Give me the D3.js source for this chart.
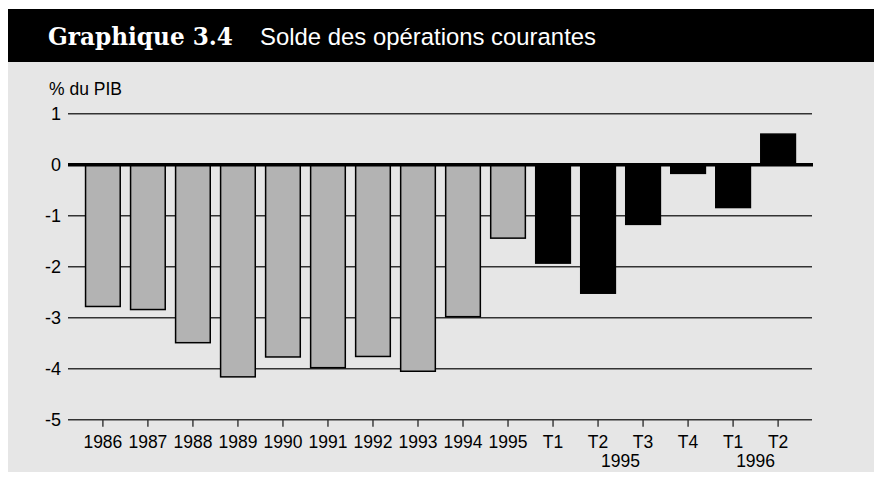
<!DOCTYPE html>
<html>
<head>
<meta charset="utf-8">
<script src="https://cdn.jsdelivr.net/npm/d3@7"></script>
<style>
  body { margin: 0; background: #fff; }
  svg { display: block; }
</style>
</head>
<body>
<svg id="canvas" width="874" height="481"></svg>
<script>
// data
const labels = ["1986", "1987", "1988", "1989", "1990", "1991", "1992", "1993", "1994", "1995",
  "T1", "T2", "T3", "T4", "T1", "T2"];
const values = [-2.78, -2.84, -3.49, -4.16, -3.77, -3.98, -3.76, -4.05, -2.98, -1.44,
  -1.93, -2.52, -1.17, -0.17, -0.84, 0.6];
const quarterly = [false, false, false, false, false, false, false, false, false, false,
  true, true, true, true, true, true];
const yTicks = [1, 0, -1, -2, -3, -4, -5];
const yearGroups = [
  { year: "1995", from: 11, to: 12 },
  { year: "1996", from: 14, to: 15 },
];

const svg = d3.select("#canvas");
const keys = labels.map((d, i) => i);

// frame: black title band over grey panel
svg.append("rect").attr("x", 8).attr("y", 62).attr("width", 866).attr("height", 410)
  .attr("fill", "#e6e6e6");
svg.append("rect").attr("x", 8).attr("y", 9).attr("width", 866).attr("height", 53)
  .attr("fill", "#000");

svg.append("text").attr("x", 48).attr("y", 44.5)
  .attr("font-family", "DejaVu Serif, serif").attr("font-weight", "bold")
  .attr("font-size", 24).attr("fill", "#fff")
  .attr("textLength", 185).attr("lengthAdjust", "spacingAndGlyphs")
  .text("Graphique 3.4");
svg.append("text").attr("x", 260).attr("y", 44.5)
  .attr("font-family", "Liberation Sans Narrow, Liberation Sans, sans-serif")
  .attr("font-size", 24.5).attr("fill", "#fff")
  .attr("textLength", 336).attr("lengthAdjust", "spacingAndGlyphs")
  .text("Solde des opérations courantes");

const x = d3.scaleBand().domain(keys).range([68, 813])
  .paddingInner(0.23).paddingOuter(0.39);
const y = d3.scaleLinear().domain([-5, 1]).range([419.7, 113.7]);

const font = "Liberation Sans, Arial, sans-serif";

// gridlines
svg.append("g").selectAll("line").data(yTicks.filter(d => d !== 0)).join("line")
  .attr("x1", 68).attr("x2", 812)
  .attr("y1", d => y(d)).attr("y2", d => y(d))
  .attr("stroke", "#333").attr("stroke-width", 1.4);

// y labels
svg.append("g").selectAll("text").data(yTicks).join("text")
  .attr("x", 61).attr("y", d => y(d) + 6.5)
  .attr("text-anchor", "end")
  .attr("font-family", font).attr("font-size", 18).attr("fill", "#000")
  .text(d => d);

svg.append("text").attr("x", 49).attr("y", 95)
  .attr("font-family", font).attr("font-size", 17.5).attr("fill", "#000")
  .text("% du PIB");

// bars
svg.append("g").selectAll("rect").data(keys).join("rect")
  .attr("x", i => x(i))
  .attr("width", x.bandwidth())
  .attr("y", i => y(Math.max(0, values[i])))
  .attr("height", i => Math.abs(y(values[i]) - y(0)))
  .attr("fill", i => quarterly[i] ? "#000" : "#b3b3b3")
  .attr("stroke", "#000").attr("stroke-width", 1.5);

// zero line
svg.append("line").attr("x1", 68).attr("x2", 813)
  .attr("y1", y(0)).attr("y2", y(0))
  .attr("stroke", "#000").attr("stroke-width", 3.5);

// x axis ticks and labels
const xg = svg.append("g");
xg.selectAll("line").data(keys).join("line")
  .attr("x1", i => x(i) + x.bandwidth() / 2).attr("x2", i => x(i) + x.bandwidth() / 2)
  .attr("y1", y(-5)).attr("y2", y(-5) + 7)
  .attr("stroke", "#333").attr("stroke-width", 1.4);
xg.selectAll("text").data(keys).join("text")
  .attr("x", i => x(i) + x.bandwidth() / 2).attr("y", 447.5)
  .attr("text-anchor", "middle")
  .attr("font-family", font).attr("font-size", 17.5).attr("fill", "#000")
  .text(i => labels[i]);
xg.selectAll("text.year").data(yearGroups).join("text")
  .attr("class", "year")
  .attr("x", d => (x(d.from) + x(d.to) + x.bandwidth()) / 2).attr("y", 467)
  .attr("text-anchor", "middle")
  .attr("font-family", font).attr("font-size", 17.5).attr("fill", "#000")
  .text(d => d.year);
</script>
</body>
</html>
